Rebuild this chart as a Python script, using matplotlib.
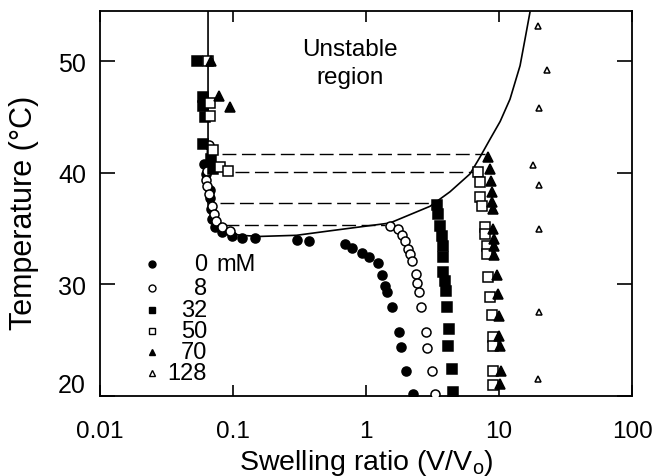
import numpy as np
import matplotlib
matplotlib.use('Agg')
import matplotlib.pyplot as plt
from matplotlib.transforms import ScaledTranslation

plt.rcParams['font.family'] = ['Liberation Sans', 'DejaVu Sans']
plt.rcParams['mathtext.default'] = 'regular'

# ---- data (swelling ratio, temperature) ----
x_0mM = [0.0605, 0.0626, 0.0672, 0.0672, 0.0684, 0.0695, 0.0733, 0.0826, 0.0982, 0.117,
         0.146, 0.303, 0.372, 0.695, 0.785, 0.933, 1.05, 1.23, 1.32, 1.39, 1.44, 1.57,
         1.77, 1.83, 2.0, 2.25]
T_0mM = [40.8, 39.9, 38.5, 37.7, 36.8, 35.9, 35.1, 34.7, 34.3, 34.2,
         34.2, 34.0, 33.9, 33.6, 33.3, 32.8, 32.5, 31.9, 30.8, 29.9, 29.3, 28.0,
         25.7, 24.4, 22.2, 20.2]

x_8mM = [0.0661, 0.0638, 0.0626, 0.0638, 0.0661, 0.0695, 0.0720, 0.0745, 0.0826, 0.0948,
         1.51, 1.74, 1.87, 1.96, 2.07, 2.14, 2.22, 2.38, 2.42, 2.50, 2.59, 2.83, 2.88,
         3.13, 3.30]
T_8mM = [42.5, 40.2, 39.4, 38.8, 38.1, 37.0, 36.3, 35.7, 35.1, 34.8,
         35.2, 35.0, 34.4, 33.9, 33.2, 32.7, 32.1, 30.9, 30.1, 29.3, 28.0, 25.7, 24.3,
         22.2, 20.2]

x_32mM = [0.0535, 0.0594, 0.0594, 0.0615, 0.0594, 0.0684, 0.0708,
          3.42, 3.48, 3.60, 3.72, 3.79, 3.79, 3.79, 3.93, 4.00, 4.06, 4.21, 4.14, 4.43, 4.51]
T_32mM = [50.0, 46.8, 46.0, 45.0, 42.6, 41.2, 40.3,
          37.1, 36.3, 35.2, 34.3, 33.4, 32.5, 31.1, 30.3, 29.4, 28.0, 26.0, 24.5, 22.4, 20.4]

x_50mM = [0.0649, 0.0672, 0.0672, 0.0708, 0.0798, 0.0916,
          6.95, 7.19, 7.19, 7.45, 7.85, 7.85, 8.13, 8.13, 8.26, 8.55, 8.85, 9.01, 9.01,
          9.01, 9.01]
T_50mM = [50.0, 46.3, 45.1, 42.0, 40.5, 40.2,
          40.1, 39.2, 37.8, 37.0, 35.1, 34.5, 33.4, 32.7, 30.7, 28.9, 27.3, 25.3, 24.5,
          22.2, 21.0]

x_70mM = [0.0684, 0.0786, 0.0948,
          8.26, 8.55, 8.71, 8.85, 8.85, 9.01, 9.01, 9.17, 9.17, 9.17, 9.66, 9.82, 10.0,
          10.0, 10.2, 10.35, 10.2]
T_70mM = [50.0, 46.9, 45.9,
          41.4, 40.3, 39.3, 38.3, 37.4, 36.8, 35.0, 34.1, 33.4, 32.6, 30.8, 29.1, 27.2,
          25.4, 24.5, 22.2, 21.1]

x_128mM = [19.6, 23.0, 20.0, 18.0, 20.0, 20.0, 20.0, 19.6]
T_128mM = [53.2, 49.2, 45.8, 40.7, 38.9, 35.0, 27.5, 21.5]

# boundary of the unstable region
x_curve = [0.0649, 0.0649, 0.0626, 0.0649, 0.0695, 0.0826, 0.113, 0.160, 0.30, 0.535,
           1.51, 3.03, 4.28, 6.05, 7.19, 8.55, 10.2, 12.1, 14.4, 15.7, 17.1]
T_curve = [54.5, 43.0, 39.4, 37.2, 35.7, 34.8, 34.4, 34.3, 34.4, 34.8,
           35.5, 37.0, 38.3, 39.9, 41.4, 43.0, 44.6, 46.6, 49.6, 52.0, 54.4]

# tie lines
tie_T = [41.7, 40.1, 37.3, 35.3]
tie_left = [0.0826, 0.1035, 0.0798, 0.0871]
tie_right = [7.85, 6.38, 3.03, 1.39]

legend_labels = ['0', '8', '32', '50', '70', '128']

fig = plt.figure(figsize=(6.57, 4.77), dpi=100)
ax = fig.add_axes([100 / 657, 80 / 477, 532 / 657, 385 / 477])

ax.plot(x_curve, T_curve, color='black', lw=1.2, zorder=2)
for T, xl, xr in zip(tie_T, tie_left, tie_right):
    ax.plot([xl, xr], [T, T], color='black', lw=1.0, dashes=(10, 4), zorder=2)

styles = [
    (x_0mM, T_0mM, 'o', 'black', 6.5),
    (x_8mM, T_8mM, 'o', 'white', 6.5),
    (x_32mM, T_32mM, 's', 'black', 6.5),
    (x_50mM, T_50mM, 's', 'white', 7.0),
    (x_70mM, T_70mM, '^', 'black', 6.5),
    (x_128mM, T_128mM, '^', 'white', 5.0),
]
for xs, Ts, m, fc, ms in styles:
    ax.plot(xs, Ts, ls='none', marker=m, ms=ms, mfc=fc, mec='black', mew=1.1, zorder=3)

# legend drawn by hand: marker, right-aligned number
leg_y = [0.343, 0.281, 0.223, 0.169, 0.114, 0.060]
for (xs, Ts, m, fc, ms), yy, lab in zip(styles, leg_y, legend_labels):
    ax.plot([0.098], [yy], transform=ax.transAxes, ls='none', marker=m, ms=5,
            mfc=fc, mec='black', mew=1.0, clip_on=False)
    ax.text(0.201, yy, lab, transform=ax.transAxes, ha='right', va='center', fontsize=17)
ax.text(0.219, leg_y[0], 'mM', transform=ax.transAxes, ha='left', va='center', fontsize=17)

ax.text(0.76, 49.8, 'Unstable\nregion', ha='center', va='center', fontsize=17.5,
        linespacing=1.35)

ax.set_xscale('log')
ax.set_xlim(0.01, 100)
ax.set_ylim(20, 54.5)
ax.set_xticks([0.01, 0.1, 1, 10, 100])
ax.set_xticklabels(['0.01', '0.1', '1', '10', '100'])
ax.minorticks_off()
ax.set_yticks([20, 30, 40, 50])
ax.tick_params(direction='in', which='both', top=True, right=True, width=1.2)
ax.tick_params(axis='x', length=8, pad=17, labelsize=17.5)
ax.tick_params(axis='y', length=11, pad=10, labelsize=18)

# the "20" label sits a little higher in the original
lab20 = ax.yaxis.get_major_ticks()[0].label1
lab20.set_transform(lab20.get_transform() + ScaledTranslation(0, 10 / 72, fig.dpi_scale_trans))

for s in ax.spines.values():
    s.set_linewidth(1.3)

ax.set_xlabel('Swelling ratio (V/V$_{o}$)', fontsize=20.5)
ax.set_ylabel('Temperature (°C)', fontsize=22)
ax.xaxis.set_label_coords(0.5, -0.132)
ax.yaxis.set_label_coords(-0.115, 0.478)

fig.savefig('out.png', dpi=100)
